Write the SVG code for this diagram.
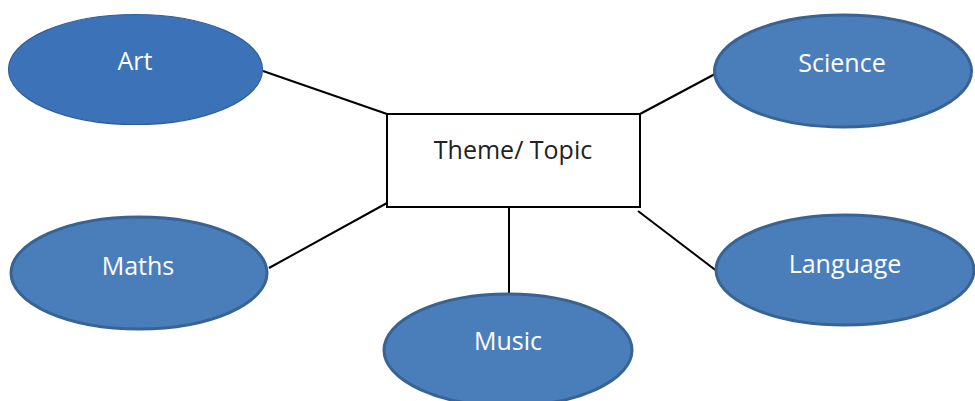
<svg xmlns="http://www.w3.org/2000/svg" width="975" height="401" viewBox="0 0 975 401">
<style>
.node ellipse{fill:#4a7ebb;stroke:#386393;stroke-width:3}
.node text{font-family:"Open Sans","Liberation Sans",sans-serif;font-size:25px;fill:#ffffff;text-anchor:middle}
#art ellipse{fill:#3c72b8;stroke:#325f96;stroke-width:1.2}
#theme rect{fill:#ffffff;stroke:#000000;stroke-width:2}
#theme text{font-family:"Open Sans","Liberation Sans",sans-serif;font-size:25px;fill:#222222;text-anchor:middle}
#connectors line{stroke:#000000;stroke-width:2}
</style>
<rect width="975" height="401" fill="#ffffff"/>
<g id="connectors">
<line x1="263" y1="71" x2="387" y2="114"/>
<line x1="640" y1="114" x2="715" y2="74"/>
<line x1="269" y1="268" x2="387" y2="203"/>
<line x1="509" y1="207" x2="509" y2="294"/>
<line x1="638" y1="211" x2="718" y2="272"/>
</g>
<g id="theme">
<rect x="387" y="114" width="253" height="93"/>
<text x="513" y="159">Theme/ Topic</text>
</g>
<g id="art" class="node">
<ellipse cx="135.5" cy="69.5" rx="127" ry="55"/>
<text x="135" y="70">Art</text>
</g>
<g id="science" class="node">
<ellipse cx="843" cy="71" rx="128.5" ry="56"/>
<text x="842" y="72">Science</text>
</g>
<g id="maths" class="node">
<ellipse cx="139" cy="273" rx="128" ry="56"/>
<text x="138" y="275">Maths</text>
</g>
<g id="music" class="node">
<ellipse cx="508" cy="350" rx="124" ry="56"/>
<text x="508" y="350">Music</text>
</g>
<g id="language" class="node">
<ellipse cx="845" cy="270" rx="129" ry="55"/>
<text x="845" y="273">Language</text>
</g>
</svg>
